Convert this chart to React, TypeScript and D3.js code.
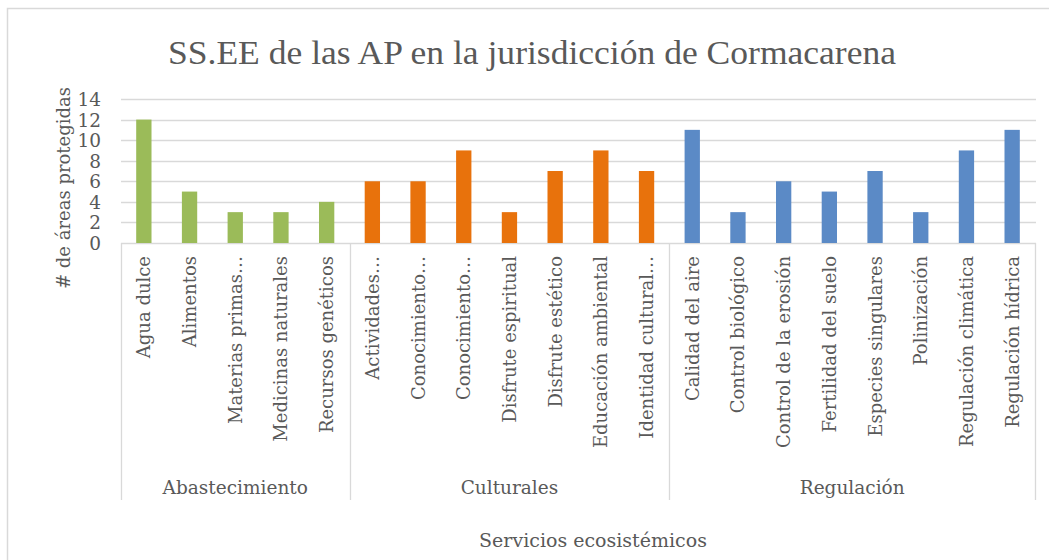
import React, { useEffect, useRef } from 'react';
import * as d3 from 'd3';

const groups = ['Abastecimiento', 'Culturales', 'Regulación'];
const groupColors = ['#9BBB59', '#E8720C', '#5B8AC6'];

const abastecimiento = ['Agua dulce', 'Alimentos', 'Materias primas…', 'Medicinas naturales', 'Recursos genéticos'];
const abastecimientoValues = [12, 5, 3, 3, 4];

const culturales = ['Actividades…', 'Conocimiento…', 'Conocimiento…', 'Disfrute espiritual', 'Disfrute estético', 'Educación ambiental', 'Identidad cultural…'];
const culturalesValues = [6, 6, 9, 3, 7, 9, 7];

const regulacion = ['Calidad del aire', 'Control biológico', 'Control de la erosión', 'Fertilidad del suelo', 'Especies singulares', 'Polinización', 'Regulación climática', 'Regulación hídrica'];
const regulacionValues = [11, 3, 6, 5, 7, 3, 9, 11];

const yTicks = [0, 2, 4, 6, 8, 10, 12, 14];

const W = 1049;
const H = 560;
const FONT = '"Liberation Serif", "DejaVu Serif", serif';
const FONT2 = '"DejaVu Serif", serif';
const TEXT = '#595959';
const GRID = '#D9D9D9';

const App: React.FC = () => {
  const svgRef = useRef<SVGSVGElement>(null);

  useEffect(() => {
    if (!svgRef.current) return;
    d3.select(svgRef.current).selectAll('*').remove();

    const svg = d3.select(svgRef.current);

    // flatten categories
    const lists = [abastecimiento, culturales, regulacion];
    const vals = [abastecimientoValues, culturalesValues, regulacionValues];
    const data: { name: string; value: number; group: number; idx: number }[] = [];
    lists.forEach((l, g) => l.forEach((name, i) => {
      data.push({ name, value: vals[g][i], group: g, idx: data.length });
    }));

    const left = 121;
    const right = 1035;
    const top = 99;
    const bottom = 243;

    const x = d3.scaleBand<number>()
      .domain(data.map(d => d.idx))
      .range([left, right])
      .paddingInner(0.665)
      .paddingOuter(0.3325);

    const y = d3.scaleLinear().domain([0, 14]).range([bottom, top]);

    // outer frame
    svg.append('rect')
      .attr('x', 7.5).attr('y', 8.5)
      .attr('width', 1100).attr('height', 600)
      .attr('fill', '#fff')
      .attr('stroke', GRID)
      .attr('stroke-width', 1.5);

    // title
    svg.append('text')
      .attr('x', 532).attr('y', 64)
      .attr('text-anchor', 'middle')
      .attr('font-family', FONT)
      .attr('font-size', 34)
      .attr('fill', TEXT)
      .attr('textLength', 728)
      .attr('lengthAdjust', 'spacingAndGlyphs')
      .text('SS.EE de las AP en la jurisdicción de Cormacarena');

    // gridlines
    svg.append('g')
      .selectAll('line')
      .data(yTicks)
      .enter()
      .append('line')
      .attr('x1', left).attr('x2', right + 1)
      .attr('y1', d => Math.round(y(d)) + 0.5)
      .attr('y2', d => Math.round(y(d)) + 0.5)
      .attr('stroke', GRID)
      .attr('stroke-width', 1.3);

    // y tick labels
    svg.append('g')
      .selectAll('text')
      .data(yTicks)
      .enter()
      .append('text')
      .attr('x', 101)
      .attr('y', d => y(d) + 7)
      .attr('text-anchor', 'end')
      .attr('font-family', FONT2)
      .attr('font-size', 18.5)
      .attr('fill', TEXT)
      .text(d => d);

    // y axis title
    svg.append('text')
      .attr('transform', `translate(63, 188) rotate(-90)`)
      .attr('text-anchor', 'middle')
      .attr('dominant-baseline', 'central')
      .attr('font-family', FONT2)
      .attr('font-size', 18)
      .attr('fill', TEXT)
      .text('# de áreas protegidas');

    // bars
    svg.append('g')
      .selectAll('rect')
      .data(data)
      .enter()
      .append('rect')
      .attr('x', d => x(d.idx)!)
      .attr('y', d => y(d.value))
      .attr('width', x.bandwidth())
      .attr('height', d => y(0) - y(d.value))
      .attr('fill', d => groupColors[d.group]);

    // category labels
    svg.append('g')
      .selectAll('text')
      .data(data)
      .enter()
      .append('text')
      .attr('transform', d => `translate(${x(d.idx)! + x.bandwidth() / 2}, 256) rotate(-90)`)
      .attr('text-anchor', 'end')
      .attr('dominant-baseline', 'central')
      .attr('font-family', FONT2)
      .attr('font-size', 18)
      .attr('fill', TEXT)
      .text(d => d.name);

    // group edge positions from band steps
    const edges = [0, abastecimiento.length, abastecimiento.length + culturales.length, data.length]
      .map(n => left + n * x.step());

    svg.append('g')
      .selectAll('line')
      .data(edges)
      .enter()
      .append('line')
      .attr('x1', d => Math.round(d) + 0.5)
      .attr('x2', d => Math.round(d) + 0.5)
      .attr('y1', bottom)
      .attr('y2', 500)
      .attr('stroke', GRID)
      .attr('stroke-width', 1.3);

    svg.append('g')
      .selectAll('text')
      .data(groups)
      .enter()
      .append('text')
      .attr('x', (d, i) => (edges[i] + edges[i + 1]) / 2)
      .attr('y', 494)
      .attr('text-anchor', 'middle')
      .attr('font-family', FONT2)
      .attr('font-size', 18.5)
      .attr('fill', TEXT)
      .text(d => d);

    // x axis title
    svg.append('text')
      .attr('x', 593).attr('y', 547)
      .attr('text-anchor', 'middle')
      .attr('font-family', FONT2)
      .attr('font-size', 19)
      .attr('fill', TEXT)
      .text('Servicios ecosistémicos');
  }, []);

  return (
    <svg
      ref={svgRef}
      width={W}
      height={H}
      style={{ position: 'absolute', left: 0, top: 0, display: 'block', background: '#fff' }}
    />
  );
};

export default App;
